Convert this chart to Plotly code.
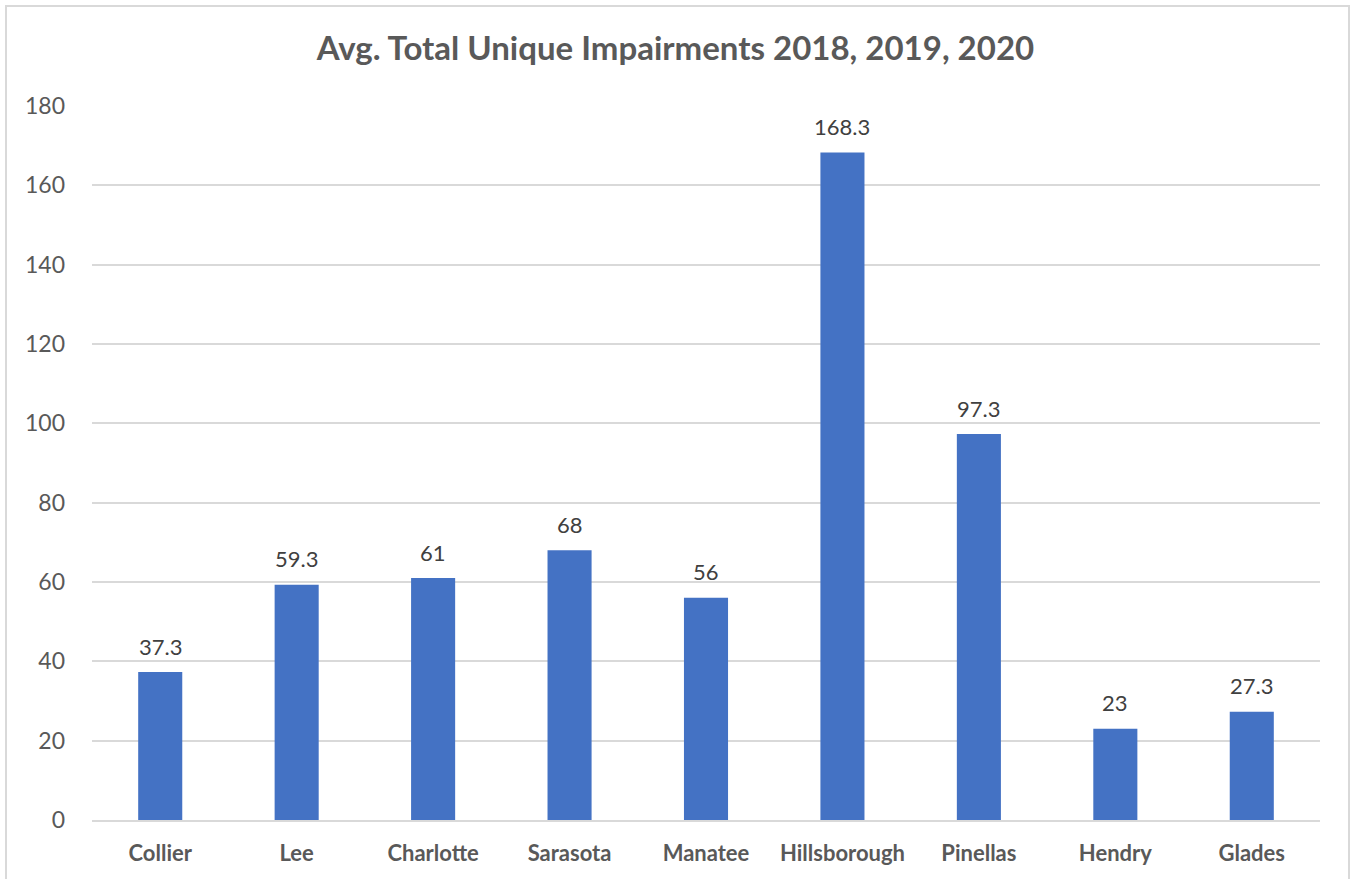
import plotly.graph_objects as go

counties = ["Collier", "Lee", "Charlotte", "Sarasota", "Manatee", "Hillsborough", "Pinellas", "Hendry", "Glades"]
values = [37.3, 59.3, 61, 68, 56, 168.3, 97.3, 23, 27.3]
labels = ["37.3", "59.3", "61", "68", "56", "168.3", "97.3", "23", "27.3"]
y_ticks = [0, 20, 40, 60, 80, 100, 120, 140, 160, 180]

FONT = "Lato, 'Open Sans', 'DejaVu Sans', sans-serif"

fig = go.Figure(go.Bar(
    x=counties, y=values,
    marker=dict(color="#4472C4", line=dict(width=0)),
    hoverinfo="x+y",
))

for c, v, t in zip(counties, values, labels):
    fig.add_annotation(x=c, y=v, text=t, showarrow=False, yanchor="middle", yshift=26,
                       font=dict(size=22, color="#404040", family=FONT))

L, R, T, B = 92, 31, 106, 59
W, H = 1351, 879
pw, ph = W - L - R, H - T - B

fig.update_layout(
    width=W, height=H,
    margin=dict(l=L, r=R, t=T, b=B),
    paper_bgcolor="white", plot_bgcolor="white",
    bargap=0.677,
    showlegend=False,
    title=dict(text="<b>Avg. Total Unique Impairments 2018, 2019, 2020</b>",
               x=0.5, xanchor="center", y=1 - 48 / H, yanchor="middle",
               font=dict(size=33, color="#595959", family=FONT)),
    font=dict(family=FONT, color="#595959"),
    xaxis=dict(showgrid=False, showline=True, linecolor="#D9D9D9", linewidth=1.5,
               ticks="", tickfont=dict(size=22, color="#595959", family=FONT),
               tickprefix="<b>", ticksuffix="</b>", ticklabelstandoff=13),
    yaxis=dict(range=[0, 180], tickvals=y_ticks, showgrid=True, gridcolor="#D9D9D9",
               gridwidth=1.5, zeroline=False, showline=False, ticks="",
               tickfont=dict(size=23, color="#595959", family=FONT), ticklabelstandoff=26),
    shapes=[dict(type="rect", xref="paper", yref="paper",
                 x0=(6 - L) / pw, x1=(1349 - L) / pw,
                 y0=-0.2, y1=(H - B - 6) / ph,
                 line=dict(color="#D9D9D9", width=2), layer="below")],
)

fig.write_html("out.html", config={"displayModeBar": False},
               post_script="document.body.style.margin='0';")
